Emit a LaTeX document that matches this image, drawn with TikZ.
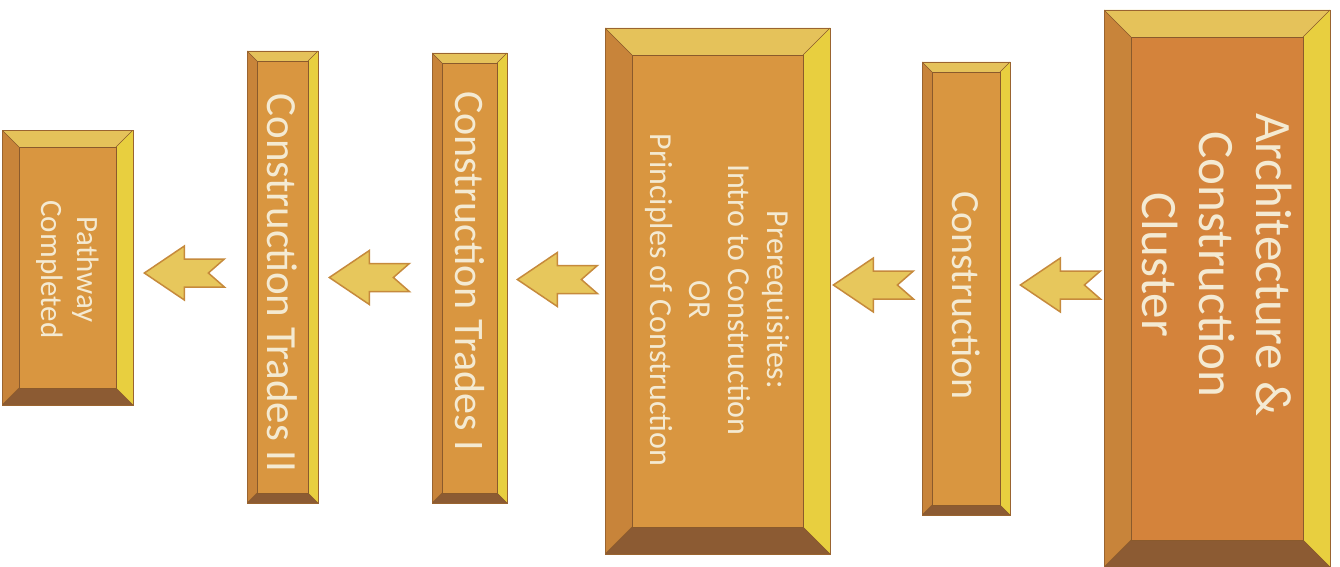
\documentclass[tikz,border=0pt]{standalone}
\usepackage{fontspec}
\setmainfont{Carlito}
\usetikzlibrary{calc}
\definecolor{facec}{HTML}{D99640}
\definecolor{facedark}{HTML}{D4833B}
\definecolor{topc}{HTML}{E5C25A}
\definecolor{rightc}{HTML}{E8CF3F}
\definecolor{leftc}{HTML}{C8843A}
\definecolor{botc}{HTML}{8C5B33}
\definecolor{edgec}{HTML}{9A6430}
\definecolor{seamc}{HTML}{8A5A2C}
\definecolor{txtc}{HTML}{F4EAD2}
\definecolor{arrfill}{HTML}{E7C75C}
\definecolor{arredge}{HTML}{C68A3C}
\tikzset{
  bevbox/.style={draw=edgec, line width=0.7pt, fill=facec, inner sep=0pt,
    path picture={
      \fill[topc] (path picture bounding box.north west) -- (path picture bounding box.north east)
        -- ([shift={(-#1pt,-#1pt)}]path picture bounding box.north east)
        -- ([shift={(#1pt,-#1pt)}]path picture bounding box.north west) -- cycle;
      \fill[rightc] (path picture bounding box.north east) -- (path picture bounding box.south east)
        -- ([shift={(-#1pt,#1pt)}]path picture bounding box.south east)
        -- ([shift={(-#1pt,-#1pt)}]path picture bounding box.north east) -- cycle;
      \fill[botc] (path picture bounding box.south east) -- (path picture bounding box.south west)
        -- ([shift={(#1pt,#1pt)}]path picture bounding box.south west)
        -- ([shift={(-#1pt,#1pt)}]path picture bounding box.south east) -- cycle;
      \fill[leftc] (path picture bounding box.south west) -- (path picture bounding box.north west)
        -- ([shift={(#1pt,-#1pt)}]path picture bounding box.north west)
        -- ([shift={(#1pt,#1pt)}]path picture bounding box.south west) -- cycle;
      \draw[seamc, line width=0.5pt]
        ([shift={(#1pt,-#1pt)}]path picture bounding box.north west) rectangle
        ([shift={(-#1pt,#1pt)}]path picture bounding box.south east);
      \draw[seamc, line width=0.4pt]
        (path picture bounding box.north west) -- ([shift={(#1pt,-#1pt)}]path picture bounding box.north west)
        (path picture bounding box.north east) -- ([shift={(-#1pt,-#1pt)}]path picture bounding box.north east)
        (path picture bounding box.south east) -- ([shift={(-#1pt,#1pt)}]path picture bounding box.south east)
        (path picture bounding box.south west) -- ([shift={(#1pt,#1pt)}]path picture bounding box.south west);
    }},
  lbl/.style={rotate=-90, text=txtc, align=center, inner sep=0pt},
  arrowstyle/.style={fill=arrfill, draw=arredge, line width=1.5pt, line join=miter},
  blockarr/.pic={
    \draw[arrowstyle] (0,0) -- (40,-27) -- (40,-14) -- (80,-14) -- (64,0)
      -- (80,14) -- (40,14) -- (40,27) -- cycle;
  }
}
\begin{document}
\begin{tikzpicture}[x=1pt, y=-1pt]
\useasboundingbox (0,0) rectangle (1340,567);
\fill[white] (0,0) rectangle (1340,567);
\clip (0,0) rectangle (1340,567);

% boxes
\node[bevbox=17, minimum width=131pt, minimum height=275pt] (b1) at (67.5,267.5) {};
\node[bevbox=10, minimum width=71pt, minimum height=452pt] (b2) at (282.5,277) {};
\node[bevbox=10, minimum width=75pt, minimum height=450pt] (b3) at (469.5,278) {};
\node[bevbox=27, minimum width=225pt, minimum height=526pt] (b4) at (717.5,291) {};
\node[bevbox=10, minimum width=88pt, minimum height=453pt] (b5) at (966,288.5) {};
\node[bevbox=27, fill=facedark, minimum width=226pt, minimum height=557pt] (b6) at (1217,288.5) {};

% labels
\node[lbl, font=\fontsize{31}{36}\selectfont] (t1) at ($(b1.center)+(0,2)$) {Pathway\\Completed};
\node[lbl, font=\fontsize{43}{50}\selectfont] (t2) at ($(b2.center)+(0,6)$) {Construction Trades II};
\node[lbl, font=\fontsize{42}{50}\selectfont] (t3) at ($(b3.center)+(0,-7)$) {Construction Trades I};
\node[lbl, font=\fontsize{32}{39}\selectfont] (t4) at ($(b4.center)+(0,9)$) {Prerequisites:\\Intro to Construction\\OR\\Principles of Construction};
\node[lbl, font=\fontsize{40}{48}\selectfont] (t5) at ($(b5.center)+(0,7)$) {Construction};
\node[lbl, font=\fontsize{51}{57}\selectfont] (t6) at ($(b6.center)+(0,-24)$) {Architecture \&\\Construction\\Cluster};

% arrows (pointing left, from later step to earlier step)
\coordinate (a1) at ($(b1.east |- 0,273)+(11,0)$);
\coordinate (a2) at ($(b2.east |- 0,277.5)+(11,0)$);
\coordinate (a3) at ($(b3.east |- 0,279.5)+(10,0)$);
\coordinate (a4) at ($(b4.east |- 0,285)+(3,0)$);
\coordinate (a5) at ($(b5.east |- 0,285)+(10,0)$);
\pic at (a1) {blockarr};
\pic at (a2) {blockarr};
\pic at (a3) {blockarr};
\pic at (a4) {blockarr};
\pic at (a5) {blockarr};
\end{tikzpicture}
\end{document}
